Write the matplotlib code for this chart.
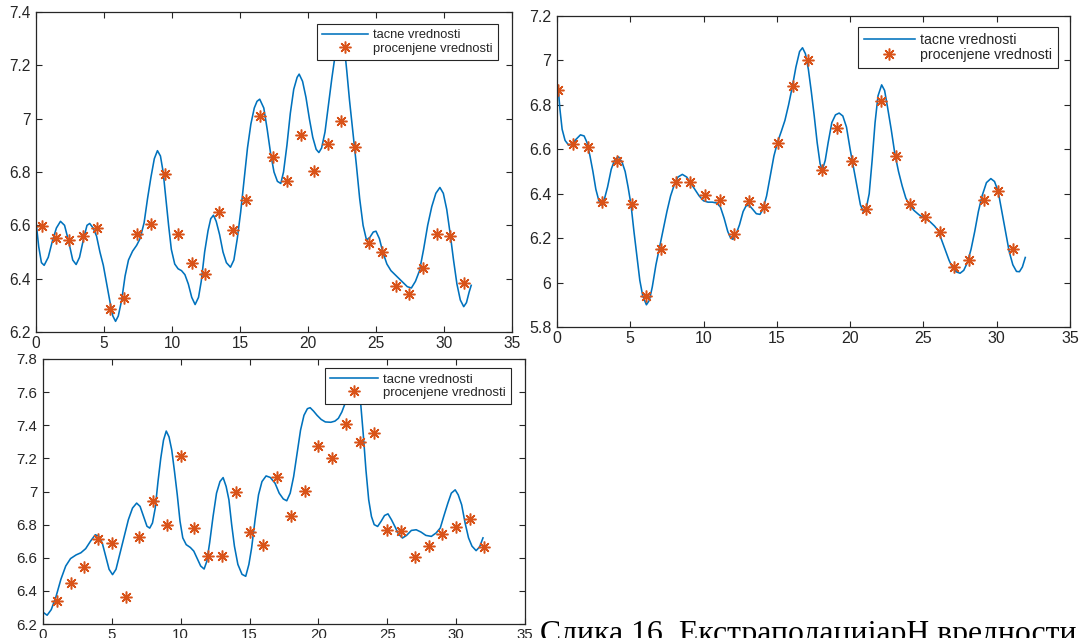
import numpy as np
import matplotlib
matplotlib.use('Agg')
import matplotlib.pyplot as plt

# ---- data ----

# panel 1 (top left) - tacne vrednosti (smooth curve)
t1_x = [0.0, 0.2, 0.4, 0.6, 0.9, 1.2, 1.5, 1.8, 2.1, 2.4, 2.7, 2.95, 3.2, 3.5, 3.75, 3.95,
        4.2, 4.45, 4.7, 4.95, 5.2, 5.45, 5.65, 5.85, 6.05, 6.3, 6.55, 6.8, 7.1, 7.4, 7.65,
        7.95, 8.2, 8.45, 8.7, 8.93, 9.15, 9.35, 9.55, 9.75, 9.95, 10.2, 10.45, 10.7, 10.95,
        11.2, 11.45, 11.7, 11.95, 12.15, 12.4, 12.65, 12.85, 13.05, 13.25, 13.5, 13.75, 14.0,
        14.3, 14.55, 14.8, 15.05, 15.3, 15.55, 15.8, 16.05, 16.25, 16.45, 16.75, 17.0, 17.25,
        17.5, 17.75, 18.0, 18.2, 18.45, 18.7, 18.95, 19.2, 19.35, 19.6, 19.85, 20.1, 20.35,
        20.6, 20.8, 21.0, 21.25, 21.5, 21.75, 22.0, 22.2, 22.45, 22.65, 22.85, 23.05, 23.3,
        23.55, 23.8, 24.05, 24.3, 24.55, 24.8, 25.0, 25.25, 25.5, 25.8, 26.1, 26.5, 26.9,
        27.3, 27.6, 27.9, 28.2, 28.5, 28.8, 29.1, 29.4, 29.7, 29.95, 30.2, 30.45, 30.7,
        30.95, 31.2, 31.45, 31.65, 31.85, 32.0]
t1_y = [6.613, 6.52, 6.46, 6.45, 6.48, 6.54, 6.59, 6.615, 6.6, 6.54, 6.47, 6.453, 6.48, 6.55,
        6.6, 6.607, 6.59, 6.56, 6.5, 6.45, 6.38, 6.31, 6.26, 6.24, 6.26, 6.32, 6.41, 6.47,
        6.503, 6.525, 6.55, 6.61, 6.7, 6.78, 6.85, 6.88, 6.86, 6.8, 6.7, 6.6, 6.51, 6.455,
        6.437, 6.43, 6.415, 6.38, 6.33, 6.303, 6.33, 6.39, 6.5, 6.58, 6.625, 6.638, 6.615,
        6.565, 6.5, 6.46, 6.443, 6.47, 6.55, 6.65, 6.77, 6.89, 6.98, 7.04, 7.065, 7.073,
        7.04, 6.96, 6.87, 6.8, 6.765, 6.757, 6.8, 6.9, 7.02, 7.11, 7.155, 7.167, 7.14, 7.08,
        7.0, 6.93, 6.885, 6.873, 6.89, 6.95, 7.05, 7.15, 7.24, 7.3, 7.33, 7.28, 7.18, 7.07,
        6.95, 6.83, 6.7, 6.6, 6.545, 6.555, 6.575, 6.578, 6.55, 6.5, 6.455, 6.43, 6.41,
        6.39, 6.37, 6.365, 6.39, 6.43, 6.51, 6.6, 6.67, 6.72, 6.742, 6.72, 6.66, 6.57,
        6.47, 6.38, 6.32, 6.295, 6.31, 6.35, 6.375]
# panel 1 - procenjene vrednosti (stars)
p1_x = [0.45, 1.45, 2.45, 3.45, 4.45, 5.45, 6.45, 7.45, 8.45, 9.45, 10.45, 11.45, 12.45,
        13.45, 14.45, 15.45, 16.45, 17.45, 18.45, 19.45, 20.45, 21.45, 22.45, 23.45, 24.45,
        25.45, 26.45, 27.45, 28.45, 29.45, 30.45, 31.45]
p1_y = [6.598, 6.554, 6.544, 6.561, 6.591, 6.285, 6.327, 6.566, 6.604, 6.794, 6.569, 6.458,
        6.419, 6.650, 6.582, 6.695, 7.011, 6.858, 6.766, 6.937, 6.804, 6.905, 6.993, 6.895,
        6.534, 6.499, 6.372, 6.344, 6.439, 6.566, 6.561, 6.384]

# panel 2 (top right)
t2_x = [0.0, 0.1, 0.2, 0.35, 0.55, 0.8, 1.05, 1.3, 1.6, 1.85, 2.05, 2.25, 2.45, 2.65, 2.85,
        3.05, 3.25, 3.45, 3.7, 3.95, 4.2, 4.45, 4.65, 4.85, 5.05, 5.25, 5.45, 5.65, 5.85,
        6.1, 6.3, 6.5, 6.75, 7.0, 7.25, 7.5, 7.75, 8.0, 8.25, 8.55, 8.85, 9.1, 9.4, 9.7,
        10.0, 10.3, 10.6, 10.9, 11.15, 11.4, 11.65, 11.85, 12.0, 12.2, 12.45, 12.7, 12.9,
        13.1, 13.35, 13.6, 13.85, 14.05, 14.3, 14.55, 14.8, 15.05, 15.3, 15.55, 15.8, 16.05,
        16.3, 16.55, 16.75, 16.95, 17.15, 17.35, 17.55, 17.75, 17.95, 18.1, 18.3, 18.5,
        18.75, 19.0, 19.25, 19.5, 19.75, 20.0, 20.25, 20.5, 20.7, 20.9, 21.1, 21.3, 21.5,
        21.7, 21.9, 22.15, 22.35, 22.55, 22.8, 23.05, 23.3, 23.55, 23.8, 24.05, 24.35, 24.7,
        25.05, 25.45, 25.75, 26.0, 26.25, 26.5, 26.75, 27.0, 27.25, 27.5, 27.75, 28.0, 28.25,
        28.5, 28.75, 29.0, 29.3, 29.6, 29.85, 30.1, 30.35, 30.6, 30.85, 31.1, 31.35, 31.55,
        31.75, 31.95]
t2_y = [6.89, 6.86, 6.78, 6.69, 6.64, 6.618, 6.625, 6.645, 6.665, 6.66, 6.63, 6.57, 6.5,
        6.42, 6.37, 6.349, 6.38, 6.43, 6.51, 6.555, 6.566, 6.54, 6.5, 6.43, 6.35, 6.23, 6.12,
        6.01, 5.94, 5.9, 5.92, 5.98, 6.08, 6.16, 6.24, 6.32, 6.39, 6.44, 6.475, 6.487, 6.475,
        6.45, 6.42, 6.39, 6.368, 6.362, 6.362, 6.358, 6.34, 6.29, 6.23, 6.2, 6.195, 6.215,
        6.26, 6.32, 6.345, 6.349, 6.33, 6.31, 6.307, 6.33, 6.39, 6.48, 6.57, 6.633, 6.68,
        6.73, 6.8, 6.88, 6.97, 7.04, 7.057, 7.03, 6.96, 6.86, 6.75, 6.63, 6.535, 6.506, 6.55,
        6.63, 6.72, 6.755, 6.763, 6.75, 6.7, 6.6, 6.51, 6.42, 6.35, 6.32, 6.335, 6.4, 6.55,
        6.72, 6.84, 6.89, 6.865, 6.79, 6.69, 6.58, 6.5, 6.435, 6.38, 6.35, 6.325, 6.305,
        6.29, 6.274, 6.255, 6.235, 6.19, 6.145, 6.1, 6.065, 6.048, 6.042, 6.055, 6.09, 6.15,
        6.23, 6.32, 6.39, 6.45, 6.468, 6.455, 6.41, 6.32, 6.23, 6.14, 6.08, 6.05, 6.049,
        6.07, 6.113]
p2_x = [0.1, 1.1, 2.1, 3.1, 4.1, 5.1, 6.1, 7.1, 8.1, 9.1, 10.1, 11.1, 12.1, 13.1, 14.1, 15.1,
        16.1, 17.1, 18.1, 19.1, 20.1, 21.1, 22.1, 23.1, 24.1, 25.1, 26.1, 27.1, 28.1, 29.1,
        30.1, 31.1]
p2_y = [6.868, 6.623, 6.611, 6.364, 6.548, 6.352, 5.94, 6.151, 6.451, 6.454, 6.392, 6.37,
        6.217, 6.365, 6.338, 6.629, 6.883, 7.0, 6.509, 6.698, 6.549, 6.332, 6.816, 6.569,
        6.352, 6.293, 6.229, 6.07, 6.1, 6.37, 6.41, 6.153]

# panel 3 (bottom left)
t3_x = [0.0, 0.3, 0.6, 0.95, 1.3, 1.65, 2.0, 2.4, 2.75, 3.1, 3.45, 3.8, 4.05, 4.3, 4.55, 4.8,
        5.05, 5.3, 5.6, 5.9, 6.2, 6.5, 6.8, 7.05, 7.3, 7.55, 7.75, 7.95, 8.15, 8.35, 8.55,
        8.75, 8.95, 9.15, 9.35, 9.55, 9.75, 9.95, 10.15, 10.4, 10.7, 10.95, 11.2, 11.45,
        11.7, 11.9, 12.1, 12.35, 12.6, 12.85, 13.08, 13.3, 13.5, 13.7, 13.9, 14.15, 14.45,
        14.72, 14.95, 15.15, 15.4, 15.65, 15.9, 16.2, 16.5, 16.85, 17.15, 17.45, 17.7, 17.95,
        18.2, 18.45, 18.7, 18.95, 19.2, 19.4, 19.65, 19.9, 20.2, 20.5, 20.9, 21.2, 21.45,
        21.7, 21.95, 22.2, 22.45, 22.7, 22.9, 23.05, 23.25, 23.45, 23.65, 23.85, 24.05, 24.3,
        24.55, 24.8, 25.05, 25.3, 25.55, 25.8, 26.1, 26.4, 26.75, 27.1, 27.45, 27.8, 28.2,
        28.55, 28.85, 29.1, 29.4, 29.65, 29.93, 30.15, 30.4, 30.65, 30.9, 31.15, 31.45, 31.7,
        31.95]
t3_y = [6.271, 6.253, 6.287, 6.367, 6.47, 6.55, 6.595, 6.617, 6.63, 6.655, 6.7, 6.739, 6.73,
        6.69, 6.61, 6.53, 6.498, 6.53, 6.63, 6.73, 6.83, 6.9, 6.93, 6.91, 6.85, 6.79, 6.779,
        6.81, 6.9, 7.06, 7.2, 7.31, 7.365, 7.33, 7.25, 7.12, 6.98, 6.82, 6.72, 6.679, 6.662,
        6.64, 6.595, 6.55, 6.532, 6.58, 6.69, 6.85, 6.99, 7.06, 7.084, 7.03, 6.95, 6.8, 6.67,
        6.56, 6.5, 6.488, 6.56, 6.66, 6.83, 6.98, 7.06, 7.094, 7.085, 7.05, 6.99, 6.955,
        6.944, 6.99, 7.09, 7.23, 7.37, 7.46, 7.5, 7.506, 7.485, 7.46, 7.435, 7.42, 7.418,
        7.425, 7.442, 7.48, 7.535, 7.61, 7.68, 7.71, 7.65, 7.55, 7.351, 7.13, 6.95, 6.849,
        6.8, 6.789, 6.82, 6.855, 6.865, 6.83, 6.789, 6.745, 6.719, 6.735, 6.765, 6.769, 6.755,
        6.735, 6.729, 6.75, 6.78, 6.85, 6.93, 6.99, 7.01, 6.98, 6.92, 6.81, 6.72, 6.67,
        6.643, 6.665, 6.72]
p3_x = [1, 2, 3, 4, 5, 6, 7, 8, 9, 10, 11, 12, 13, 14, 15, 16, 17, 18, 19, 20, 21, 22, 23,
        24, 25, 26, 27, 28, 29, 30, 31, 32]
p3_y = [6.337, 6.448, 6.542, 6.713, 6.689, 6.365, 6.725, 6.944, 6.795, 7.217, 6.779, 6.608,
        6.608, 7.0, 6.757, 6.675, 7.086, 6.855, 7.002, 7.277, 7.205, 7.408, 7.297, 7.351,
        6.769, 6.763, 6.606, 6.671, 6.743, 6.785, 6.831, 6.667]

x_ticks = [0, 5, 10, 15, 20, 25, 30, 35]
y_ticks1 = [6.2, 6.4, 6.6, 6.8, 7.0, 7.2, 7.4]
y_ticks2 = [5.8, 6.0, 6.2, 6.4, 6.6, 6.8, 7.0, 7.2]
y_ticks3 = [6.2, 6.4, 6.6, 6.8, 7.0, 7.2, 7.4, 7.6, 7.8]

labels = ['tacne vrednosti', 'procenjene vrednosti']
caption = 'Слика 16. ЕкстраполацијарН вредности'

BLUE = '#0072BD'
ORANGE = '#D95319'
DARK = '#262626'
W, H = 1081, 638

plt.rcParams['font.family'] = ['Liberation Sans', 'DejaVu Sans']

fig = plt.figure(figsize=(W / 100, H / 100), dpi=100)


def panel(box, tx, ty, px, py, yticks, tick_fs, leg_box, leg_fs):
    """box / leg_box are (left, top, right, bottom) in image pixels"""
    l, t, r, b = box
    ax = fig.add_axes([l / W, 1 - b / H, (r - l) / W, (b - t) / H])
    ax.plot(tx, ty, color=BLUE, lw=1.15, label=labels[0])
    ax.plot(px, py, ls='none', marker=(8, 2, 0), ms=8.5, mew=1.1, color=ORANGE,
            label=labels[1])
    ax.set_xlim(0, 35)
    ax.set_ylim(yticks[0], yticks[-1])
    ax.set_xticks(x_ticks)
    ax.set_yticks(yticks)
    ax.set_yticklabels(['%g' % v for v in yticks])
    ax.tick_params(direction='in', top=True, right=True, length=4, width=0.8,
                   colors=DARK, labelsize=tick_fs)
    ax.tick_params(axis='x', pad=3)
    ax.tick_params(axis='y', pad=4)
    for s in ax.spines.values():
        s.set_color(DARK)
        s.set_linewidth(0.9)
    leg = ax.legend(loc='upper right', bbox_to_anchor=(leg_box[2] / W, 1 - leg_box[1] / H),
                    bbox_transform=fig.transFigure, borderaxespad=0, fontsize=leg_fs,
                    fancybox=False, framealpha=1, edgecolor=DARK, handlelength=3.6,
                    handletextpad=0.4, labelspacing=0.1, borderpad=0.4)
    leg.get_frame().set_linewidth(0.8)
    for txt in leg.get_texts():
        txt.set_color(DARK)
    return ax


panel((36, 12, 512, 332), t1_x, t1_y, p1_x, p1_y, y_ticks1, 11.2, (313, 24, 498, 58), 9.3)
panel((557, 16, 1070, 327), t2_x, t2_y, p2_x, p2_y, y_ticks2, 11.5, (857, 27, 1058, 59), 10.2)
panel((43, 359, 525, 624), t3_x, t3_y, p3_x, p3_y, y_ticks3, 10.8, (324, 368, 511, 396), 9.5)

# caption under the figures, cut by the bottom edge of the page
fig.text(540 / W, 1 - 642 / H, caption, family=['Liberation Serif', 'DejaVu Serif'],
         fontsize=22.9, color='black', ha='left', va='baseline')

fig.savefig('out.png', dpi=100)
